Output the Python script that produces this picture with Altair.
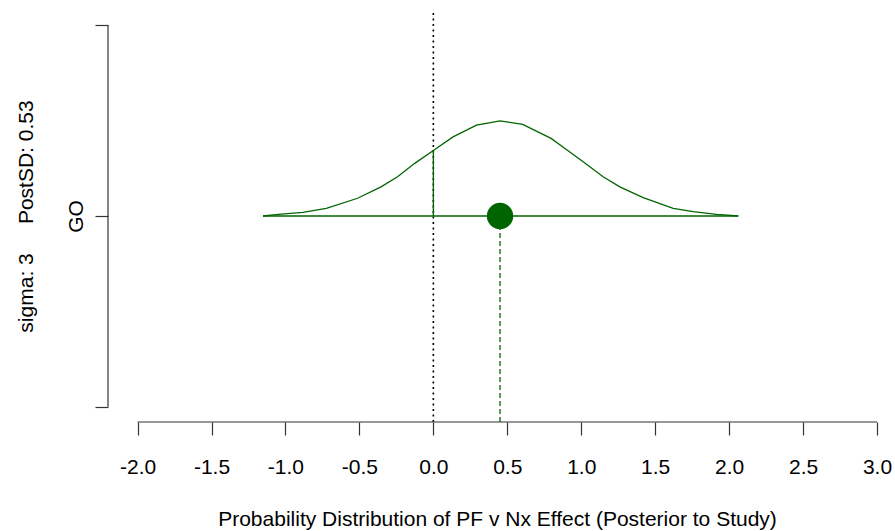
import altair as alt
import pandas as pd

# ---- data ----
curve_x = [-1.152, -1.028, -0.882, -0.724, -0.512, -0.354, -0.242, -0.126, 0.010,
           0.133, 0.292, 0.451, 0.604, 0.796, 0.874, 1.013, 1.148, 1.261, 1.419,
           1.622, 1.757, 1.915, 2.062]
curve_h = [0.000, 0.010, 0.019, 0.040, 0.093, 0.153, 0.206, 0.276, 0.349,
           0.415, 0.476, 0.499, 0.480, 0.407, 0.363, 0.284, 0.206, 0.153, 0.096,
           0.040, 0.023, 0.009, 0.000]
row_level = 1.0          # the "GO" row
post_mean = 0.451
null_value = 0.0
height_at_null = 0.345
x_ticks = [-2.0, -1.5, -1.0, -0.5, 0.0, 0.5, 1.0, 1.5, 2.0, 2.5, 3.0]
y_ticks = [0, 1, 2]
x_domain = [-2.2, 3.0]
y_domain = [-0.08, 2.08]
x_title = "Probability Distribution of PF v Nx Effect (Posterior to Study)"
y_title = "sigma: 3" + "\u00a0" * 4 + " PostSD: 0.53"

GREEN = "#006400"
FONT = "Liberation Sans"

x_axis = alt.Axis(values=x_ticks, domain=False, grid=False, tickSize=13,
                  tickColor="#333333", tickWidth=1.2,
                  labelExpr="datum.value < 0 ? '-' + format(abs(datum.value), '.1f') : format(datum.value, '.1f')",
                  labelFont=FONT, labelFontSize=21, labelColor="#000000",
                  labelPadding=38, labelBaseline="alphabetic", labelFlush=False,
                  labelOverlap=False, title=x_title, titleFont=FONT, titleFontSize=21,
                  titleFontWeight="normal", titleColor="#000000",
                  titleBaseline="alphabetic", titleX=389, titleY=103)
y_axis = alt.Axis(values=y_ticks, domain=False, grid=False, tickSize=13,
                  tickColor="#333333", tickWidth=1.2,
                  labelExpr="datum.value == 1 ? 'GO' : ''",
                  labelFont=FONT, labelFontSize=21, labelColor="#000000",
                  labelAngle=-90, labelAlign="center", labelBaseline="alphabetic",
                  labelPadding=13, labelOverlap=False, labelFlush=False,
                  title=y_title, titleFont=FONT, titleFontSize=21,
                  titleFontWeight="normal", titleColor="#000000", titleAngle=-90,
                  titleAlign="center", titleBaseline="alphabetic",
                  titleX=-76, titleY=206)

xs = alt.Scale(domain=x_domain, nice=False, zero=False)
ys = alt.Scale(domain=y_domain, nice=False, zero=False)


def X(field="x"):
    return alt.X(f"{field}:Q", scale=xs, axis=x_axis)


def Y(field="y"):
    return alt.Y(f"{field}:Q", scale=ys, axis=y_axis)


curve_df = pd.DataFrame({"x": curve_x, "y": [row_level + h for h in curve_h], "o": range(len(curve_x))})
curve = alt.Chart(curve_df).mark_line(color=GREEN, strokeWidth=1.3).encode(
    x=X(), y=Y(), order="o:Q")

base_df = pd.DataFrame({"x": [curve_x[0]], "x2": [curve_x[-1]], "y": [row_level]})
base = alt.Chart(base_df).mark_rule(color=GREEN, strokeWidth=1.4).encode(
    x=X(), x2="x2:Q", y=Y())

nullseg_df = pd.DataFrame({"x": [null_value], "y": [row_level], "y2": [row_level + height_at_null]})
nullseg = alt.Chart(nullseg_df).mark_rule(color=GREEN, strokeWidth=1.3).encode(
    x=X(), y=Y(), y2="y2:Q")

dotted_df = pd.DataFrame({"x": [null_value], "y": [y_domain[0]], "y2": [y_domain[1]]})
dotted = alt.Chart(dotted_df).mark_rule(color="#000000", strokeWidth=1.6, strokeDash=[2, 3.5]).encode(
    x=X(), y=Y(), y2="y2:Q")

dash_df = pd.DataFrame({"x": [post_mean], "y": [y_domain[0]], "y2": [row_level]})
dashed = alt.Chart(dash_df).mark_rule(color=GREEN, strokeWidth=1.3, strokeDash=[5, 3]).encode(
    x=X(), y=Y(), y2="y2:Q")

point_df = pd.DataFrame({"x": [post_mean], "y": [row_level]})
point = alt.Chart(point_df).mark_circle(color=GREEN, opacity=1, size=700).encode(
    x=X(), y=Y())

xline_df = pd.DataFrame({"x": [x_ticks[0]], "x2": [x_ticks[-1]], "y": [y_domain[0]]})
xline = alt.Chart(xline_df).mark_rule(color="#333333", strokeWidth=1.2).encode(
    x=X(), x2="x2:Q", y=Y())

yline_df = pd.DataFrame({"x": [x_domain[0]], "y": [y_ticks[0]], "y2": [y_ticks[-1]]})
yline = alt.Chart(yline_df).mark_rule(color="#333333", strokeWidth=1.2).encode(
    x=X(), y=Y(), y2="y2:Q")

chart = alt.layer(dotted, base, curve, nullseg, dashed, point, xline, yline).properties(
    width=769, height=412,
    padding={"left": 108, "top": 10, "right": 18, "bottom": 109},
    autosize=alt.AutoSizeParams(type="none"),
    background="white",
).configure_view(strokeWidth=0)

chart.save("out.html", embed_options={"renderer": "svg", "actions": False})
